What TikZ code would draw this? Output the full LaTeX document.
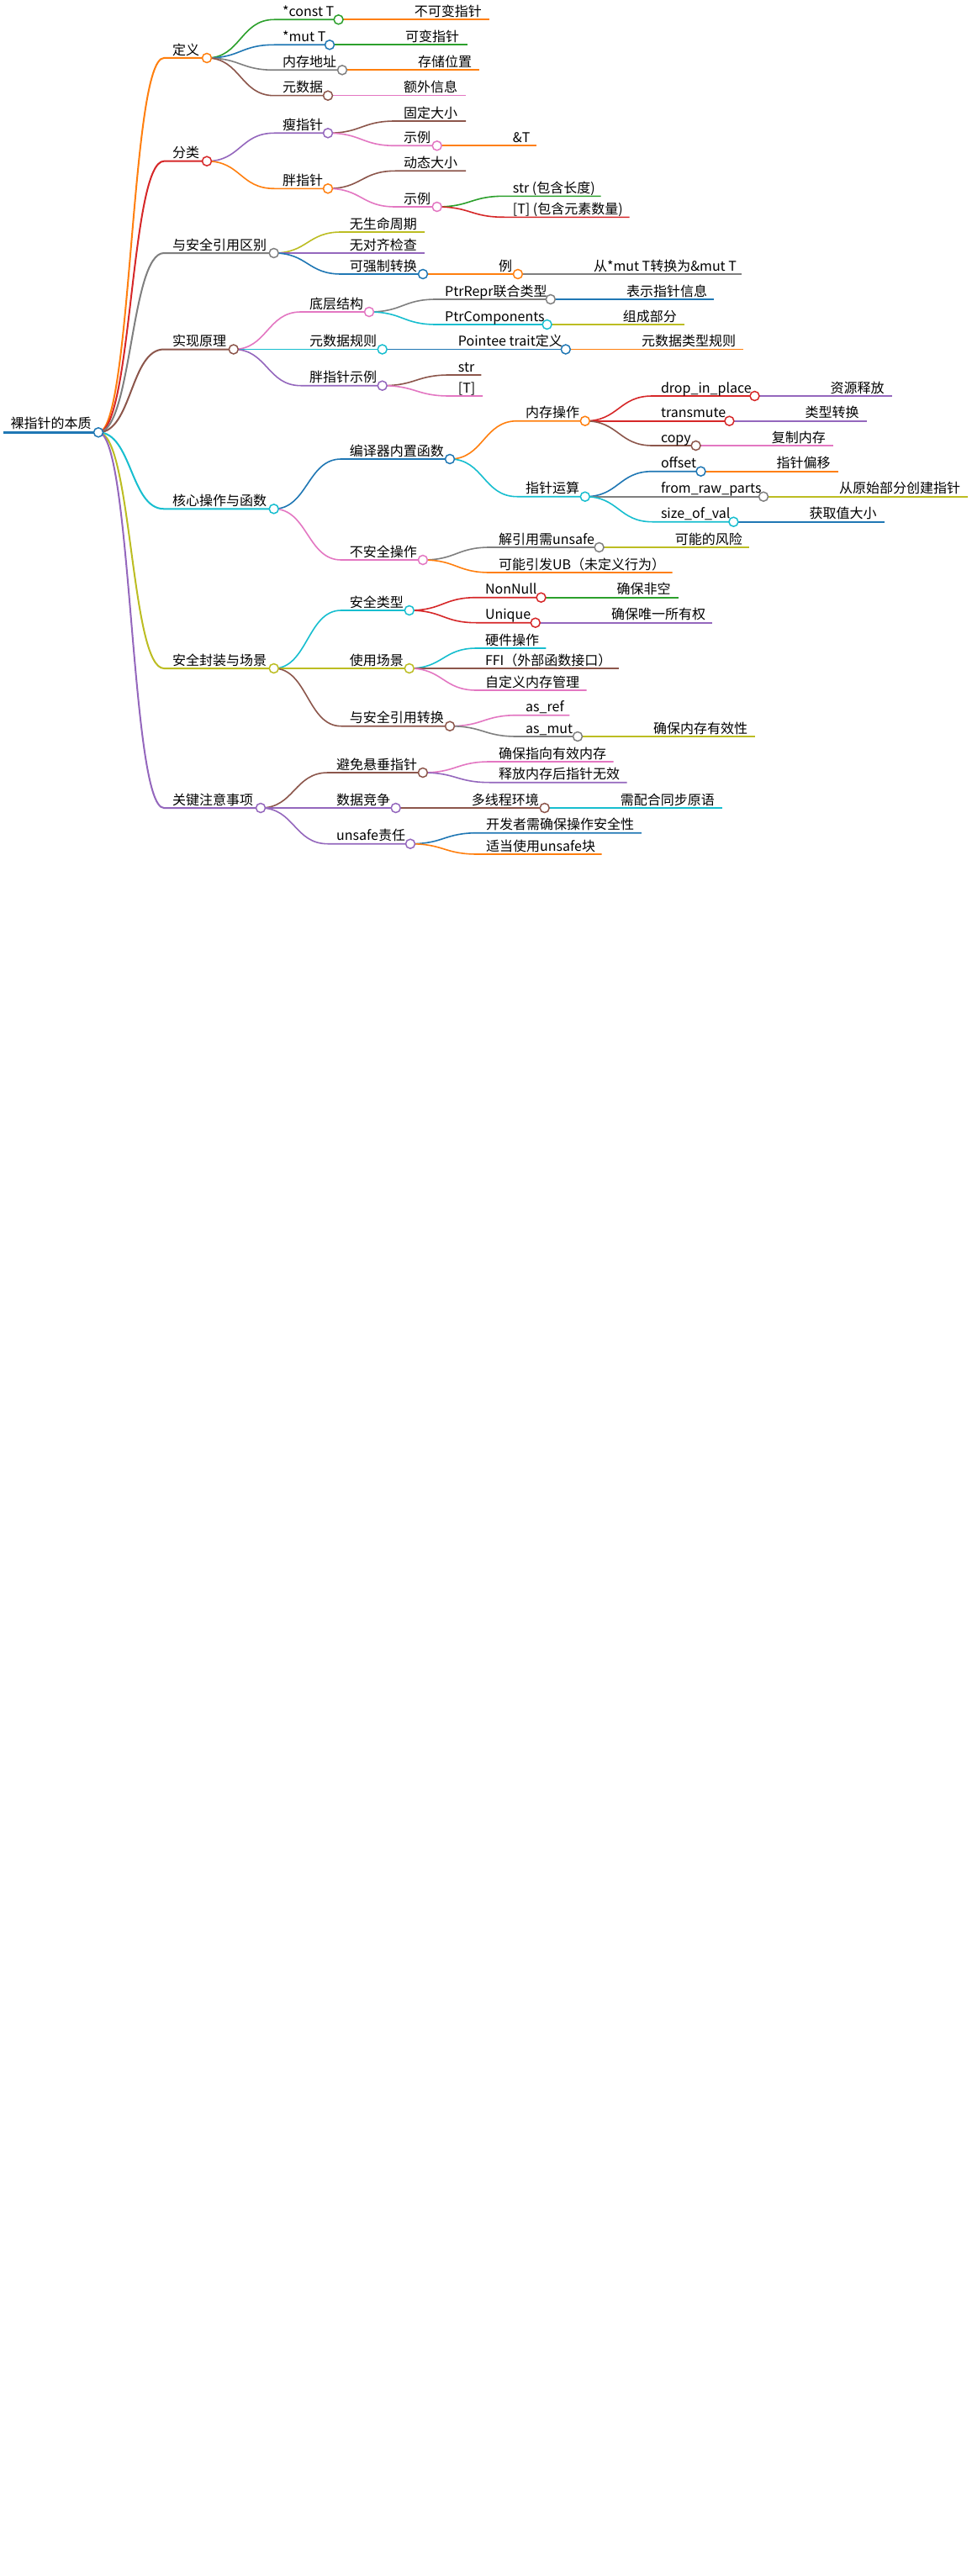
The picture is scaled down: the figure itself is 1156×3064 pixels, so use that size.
\documentclass[tikz,border=0pt]{standalone}
\usepackage{fontspec}
\setmainfont{Noto Sans CJK SC}
\definecolor{cblue}{HTML}{1F77B4}
\definecolor{corange}{HTML}{FF7F0E}
\definecolor{cgreen}{HTML}{2CA02C}
\definecolor{cred}{HTML}{D62728}
\definecolor{cpurple}{HTML}{9467BD}
\definecolor{cbrown}{HTML}{8C564B}
\definecolor{cpink}{HTML}{E377C2}
\definecolor{cgray}{HTML}{7F7F7F}
\definecolor{colive}{HTML}{BCBD22}
\definecolor{ccyan}{HTML}{17BECF}
\newcommand{\mnode}[7]{%
  \coordinate (#1-s) at (#3,#5);
  \coordinate (#1-e) at (#4,#5);
  \draw[edge,#6] (#2-e) .. controls +(40,0) and +(-40,0) .. (#1-s) -- (#1-e);
  \node[lbl] (#1-t) at (#1-s) {#7};
}
\newcommand{\mdot}[2]{\node[dot,draw=#2] (#1) at (#1-e) {};}
\begin{document}
\begin{tikzpicture}[x=1pt,y=-1pt,
  edge/.style={line width=1.6pt},
  lone/.style={line width=2pt},
  lbl/.style={anchor=base west,xshift=10pt,yshift=3.8pt,inner sep=0pt,text=black,font=\fontsize{16}{19}\selectfont},
  dot/.style={circle,fill=white,line width=1.5pt,minimum size=11pt,inner sep=0pt}]
\fill[white] (0,0) rectangle (1156,3064);
\useasboundingbox (0,0) rectangle (1156,3064);
% root
\coordinate (R-s) at (4,514.3);
\coordinate (R-e) at (117,514.3);
\draw[cblue,line width=3.5pt] (R-s) -- (R-e);
\node[lbl,xshift=-1.5pt,yshift=1pt] (R-t) at (R-s) {裸指针的本质};
% level 1
\mnode{A}{R}{195}{246}{69}{corange,lone}{定义}
\mnode{B}{R}{195}{246}{191.7}{cred,lone}{分类}
\mnode{C}{R}{195}{325.7}{301}{cgray,lone}{与安全引用区别}
\mnode{D}{R}{195}{277.8}{415.5}{cbrown,lone}{实现原理}
\mnode{E}{R}{195}{325.7}{605.3}{ccyan,lone}{核心操作与函数}
\mnode{F}{R}{195}{325.7}{795}{colive,lone}{安全封装与场景}
\mnode{G}{R}{195}{310}{961}{cpurple,lone}{关键注意事项}
% A
\mnode{A1}{A}{326}{402.6}{23.3}{cgreen}{*const T}
\mnode{A1a}{A1}{482.6}{582}{23.3}{corange}{不可变指针}
\mnode{A2}{A}{326}{392}{53.3}{cblue}{*mut T}
\mnode{A2a}{A2}{472}{556}{53.3}{cgreen}{可变指针}
\mnode{A3}{A}{326}{407}{83.3}{cgray}{内存地址}
\mnode{A3a}{A3}{487}{570}{83.3}{corange}{存储位置}
\mnode{A4}{A}{326}{390}{113.7}{cbrown}{元数据}
\mnode{A4a}{A4}{470}{554}{113.7}{cpink}{额外信息}
% B
\mnode{B1}{B}{326}{390}{158.3}{cpurple}{瘦指针}
\mnode{B1a}{B1}{470}{554}{144}{cbrown}{固定大小}
\mnode{B1b}{B1}{470}{519.7}{173.3}{cpink}{示例}
\mnode{B1b1}{B1b}{599.7}{638}{173.3}{corange}{\&T}
\mnode{B2}{B}{326}{390}{224.3}{corange}{胖指针}
\mnode{B2a}{B2}{470}{554}{203.3}{cbrown}{动态大小}
\mnode{B2b}{B2}{470}{519.7}{246}{cpink}{示例}
\mnode{B2b1}{B2b}{599.7}{714.6}{233.3}{cgreen}{str (包含长度)}
\mnode{B2b2}{B2b}{599.7}{748.5}{258.3}{cred}{[T] (包含元素数量)}
% C
\mnode{C1}{C}{405.7}{505}{276}{colive}{无生命周期}
\mnode{C2}{C}{405.7}{505}{301}{cpurple}{无对齐检查}
\mnode{C3}{C}{405.7}{503}{326}{cblue}{可强制转换}
\mnode{C3a}{C3}{583}{615.9}{326}{corange}{例}
\mnode{C3a1}{C3a}{695.9}{881.6}{326}{cgray}{从*mut T转换为\&mut T}
% D
\mnode{D1}{D}{357.8}{439}{371}{cpink}{底层结构}
\mnode{D1a}{D1}{519}{654.8}{356}{cgray}{PtrRepr联合类型}
\mnode{D1a1}{D1a}{734.8}{849.4}{356}{cblue}{表示指针信息}
\mnode{D1b}{D1}{519}{650.6}{386}{ccyan}{PtrComponents}
\mnode{D1b1}{D1b}{730.6}{813.8}{386}{colive}{组成部分}
\mnode{D2}{D}{357.8}{454.7}{415.5}{ccyan}{元数据规则}
\mnode{D2a}{D2}{534.7}{672.8}{415.5}{cblue}{Pointee trait定义}
\mnode{D2a1}{D2a}{752.8}{883.7}{415.5}{corange}{元数据类型规则}
\mnode{D3}{D}{357.8}{454.7}{458.7}{cpurple}{胖指针示例}
\mnode{D3a}{D3}{534.7}{572.4}{446}{cbrown}{str}
\mnode{D3b}{D3}{534.7}{574}{471}{cpink}{[T]}
% E
\mnode{E1}{E}{405.7}{535}{546}{cblue}{编译器内置函数}
\mnode{E1a}{E1}{615}{695.8}{500.7}{corange}{内存操作}
\mnode{E1a1}{E1a}{775.8}{897.5}{471}{cred}{drop\_in\_place}
\mnode{E1a1a}{E1a1}{977.5}{1060.7}{471}{cpurple}{资源释放}
\mnode{E1a2}{E1a}{775.8}{867.4}{500.7}{cred}{transmute}
\mnode{E1a2a}{E1a2}{947.4}{1030.5}{500.7}{cpurple}{类型转换}
\mnode{E1a3}{E1a}{775.8}{827.6}{530}{cbrown}{copy}
\mnode{E1a3a}{E1a3}{907.6}{990.8}{530}{cpink}{复制内存}
\mnode{E1b}{E1}{615}{695.8}{590.7}{ccyan}{指针运算}
\mnode{E1b1}{E1b}{775.8}{833.5}{560.7}{cblue}{offset}
\mnode{E1b1a}{E1b1}{913.5}{996.7}{560.7}{corange}{指针偏移}
\mnode{E1b2}{E1b}{775.8}{908}{590.7}{cgray}{from\_raw\_parts}
\mnode{E1b2a}{E1b2}{988}{1151}{590.7}{colive}{从原始部分创建指针}
\mnode{E1b3}{E1b}{775.8}{872.4}{620.7}{ccyan}{size\_of\_val}
\mnode{E1b3a}{E1b3}{952.4}{1051.5}{620.7}{cblue}{获取值大小}
\mnode{E2}{E}{405.7}{502.9}{666}{cpink}{不安全操作}
\mnode{E2a}{E2}{582.9}{712.6}{651}{cgray}{解引用需unsafe}
\mnode{E2a1}{E2a}{792.6}{891.2}{651}{colive}{可能的风险}
\mnode{E2b}{E2}{582.9}{799.6}{681}{corange}{可能引发UB（未定义行为）}
% F
\mnode{F1}{F}{405.7}{486.8}{726}{ccyan}{安全类型}
\mnode{F1a}{F1}{566.8}{643.5}{710.7}{cred}{NonNull}
\mnode{F1a1}{F1a}{723.5}{806.7}{710.7}{cgreen}{确保非空}
\mnode{F1b}{F1}{566.8}{636.8}{740.7}{cred}{Unique}
\mnode{F1b1}{F1b}{716.8}{847.3}{740.7}{cpurple}{确保唯一所有权}
\mnode{F2}{F}{405.7}{486.8}{795}{colive}{使用场景}
\mnode{F2a}{F2}{566.8}{649.4}{771}{ccyan}{硬件操作}
\mnode{F2b}{F2}{566.8}{735.6}{795}{cbrown}{FFI（外部函数接口）}
\mnode{F2c}{F2}{566.8}{697.5}{821}{cpink}{自定义内存管理}
\mnode{F3}{F}{405.7}{535}{863.7}{cbrown}{与安全引用转换}
\mnode{F3a}{F3}{615}{677.4}{850.7}{cpink}{as\_ref}
\mnode{F3b}{F3}{615}{687}{876}{cgray}{as\_mut}
\mnode{F3b1}{F3b}{767}{897.5}{876}{colive}{确保内存有效性}
% G
\mnode{G1}{G}{390}{502.9}{919}{cbrown}{避免悬垂指针}
\mnode{G1a}{G1}{582.9}{729.7}{906}{cpink}{确保指向有效内存}
\mnode{G1b}{G1}{582.9}{745.6}{930.7}{cpurple}{释放内存后指针无效}
\mnode{G2}{G}{390}{470.7}{961}{cpurple}{数据竞争}
\mnode{G2a}{G2}{550.7}{647.7}{961}{cbrown}{多线程环境}
\mnode{G2a1}{G2a}{727.7}{858.6}{961}{ccyan}{需配合同步原语}
\mnode{G3}{G}{390}{488}{1003.7}{cpurple}{unsafe责任}
\mnode{G3a}{G3}{568}{762.8}{990.7}{cblue}{开发者需确保操作安全性}
\mnode{G3b}{G3}{568}{715.5}{1016}{corange}{适当使用unsafe块}
% circles
\mdot{R}{cblue}
\mdot{A}{corange}\mdot{B}{cred}\mdot{C}{cgray}\mdot{D}{cbrown}
\mdot{E}{ccyan}\mdot{F}{colive}\mdot{G}{cpurple}
\mdot{A1}{cgreen}\mdot{A2}{cblue}\mdot{A3}{cgray}\mdot{A4}{cbrown}
\mdot{B1}{cpurple}\mdot{B1b}{cpink}\mdot{B2}{corange}\mdot{B2b}{cpink}
\mdot{C3}{cblue}\mdot{C3a}{corange}
\mdot{D1}{cpink}\mdot{D1a}{cgray}\mdot{D1b}{ccyan}\mdot{D2}{ccyan}\mdot{D2a}{cblue}\mdot{D3}{cpurple}
\mdot{E1}{cblue}\mdot{E1a}{corange}\mdot{E1a1}{cred}\mdot{E1a2}{cred}\mdot{E1a3}{cbrown}
\mdot{E1b}{ccyan}\mdot{E1b1}{cblue}\mdot{E1b2}{cgray}\mdot{E1b3}{ccyan}
\mdot{E2}{cpink}\mdot{E2a}{cgray}
\mdot{F1}{ccyan}\mdot{F1a}{cred}\mdot{F1b}{cred}\mdot{F2}{colive}\mdot{F3}{cbrown}\mdot{F3b}{cgray}
\mdot{G1}{cbrown}\mdot{G2}{cpurple}\mdot{G2a}{cbrown}\mdot{G3}{cpurple}
\end{tikzpicture}
\end{document}
